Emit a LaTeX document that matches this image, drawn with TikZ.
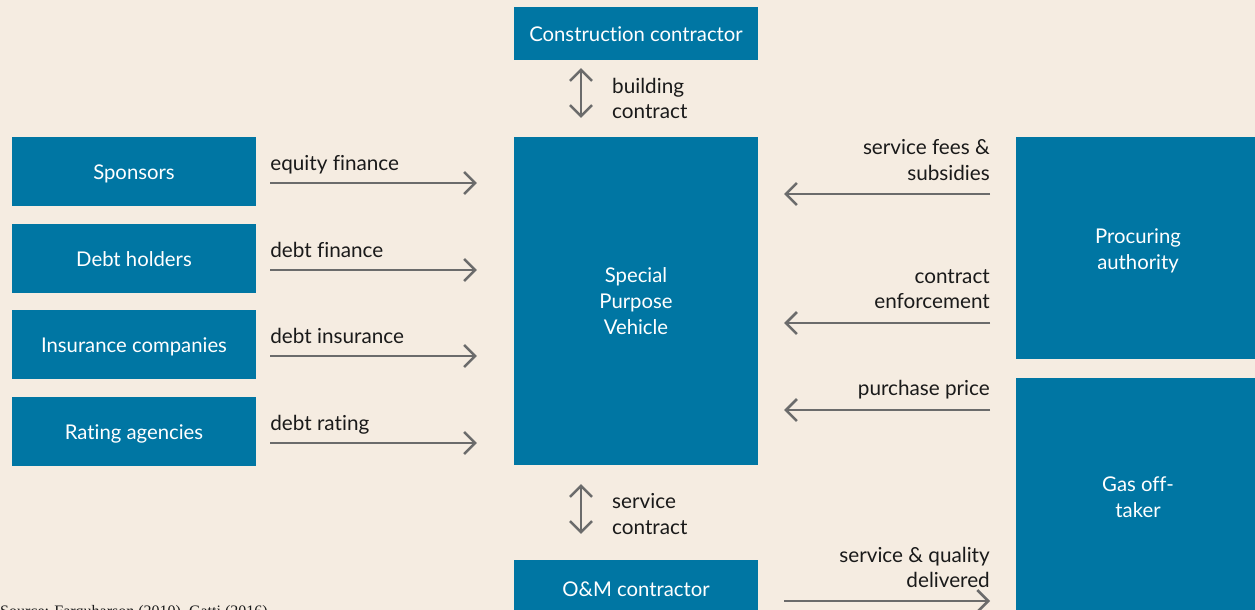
\documentclass[tikz,border=0pt]{standalone}
\usepackage{fontspec}
\setmainfont{Lato}[Ligatures=NoCommon]
\newfontfamily\srcfont{Liberation Serif}
\usetikzlibrary{arrows.meta,calc}
\definecolor{bg}{HTML}{F5ECE1}
\definecolor{boxblue}{HTML}{0076A3}
\definecolor{arrowgray}{HTML}{6B6B6B}
\definecolor{txt}{HTML}{1A1A1A}
\begin{document}
\begin{tikzpicture}[x=1pt,y=-1pt,
  box/.style={fill=boxblue, text=white, minimum width=244pt, inner sep=0pt,
    align=center, font=\fontsize{20.3}{26}\selectfont},
  box1/.style={box, text height=20pt, text depth=4pt},
  boxtxt/.style={text=white, inner sep=0pt, align=center, font=\fontsize{20.3}{26}\selectfont},
  lbl/.style={text=txt, inner sep=0pt, font=\fontsize{20.7}{26}\selectfont},
  arr/.style={draw=arrowgray, line width=2.5pt, -{Straight Barb[length=11pt,width=22pt]}},
  darr/.style={draw=arrowgray, line width=2.5pt, {Straight Barb[length=11pt,width=22pt]}-{Straight Barb[length=11pt,width=22pt]}}
]
\clip (0,0) rectangle (1255,610);
\fill[bg] (0,0) rectangle (1255,610);

% boxes
\node[box1, minimum height=53pt] (cc) at (636,33.5) {Construction contractor};
\node[box, minimum height=328pt] (spv) at (636,301) {Special\\Purpose\\Vehicle};
\node[box1, minimum height=56pt] (om) at (636,588) {O\&M contractor};
\node[box1, minimum height=69pt] (sp) at (134,171.5) {Sponsors};
\node[box1, minimum height=69pt] (dh) at (134,258.5) {Debt holders};
\node[box1, minimum height=69pt] (ic) at (134,344.5) {Insurance companies};
\node[box1, minimum height=69pt] (ra) at (134,431.5) {Rating agencies};
\node[box, minimum height=222pt] (pa) at (1138,248) {};
\node[boxtxt] (pat) at ($(pa.center)+(0,3)$) {Procuring\\authority};
\node[box, minimum height=238pt] (go) at (1138,497) {Gas off-\\taker};

% left arrows
\foreach \n/\t in {sp/equity finance, dh/debt finance, ic/debt insurance, ra/debt rating}{
  \coordinate (\n s) at ($(\n.east)+(14,11.5)$);
  \coordinate (\n e) at ($(spv.west |- \n s)+(-37,0)$);
  \draw[arr] (\n s) -- (\n e);
  \node[lbl, anchor=base west] (\n l) at ($(\n s)+(0,-13)$) {\t};
}

% right arrows
\coordinate (r1s) at (990,194);
\coordinate (r1e) at ($(spv.east |- r1s)+(26,0)$);
\draw[arr] (r1s) -- (r1e);
\node[lbl, anchor=base east] (r1a) at (990,154) {service fees \&};
\node[lbl, anchor=base east] (r1b) at (990,180) {subsidies};

\coordinate (r2s) at (990,323);
\coordinate (r2e) at ($(spv.east |- r2s)+(26,0)$);
\draw[arr] (r2s) -- (r2e);
\node[lbl, anchor=base east] (r2a) at (990,283) {contract};
\node[lbl, anchor=base east] (r2b) at (990,308) {enforcement};

\coordinate (r3s) at (990,410);
\coordinate (r3e) at ($(spv.east |- r3s)+(26,0)$);
\draw[arr] (r3s) -- (r3e);
\node[lbl, anchor=base east] (r3a) at (990,395) {purchase price};

\coordinate (r4s) at ($(om.east)+(26,13)$);
\coordinate (r4e) at (990,601);
\draw[arr] (r4s) -- (r4e);
\node[lbl, anchor=base east] (r4a) at (990,562) {service \& quality};
\node[lbl, anchor=base east] (r4b) at (990,587) {delivered};

% vertical arrows
\coordinate (v1a) at ($(cc.south)+(-55,8)$);
\coordinate (v1b) at ($(spv.north)+(-55,-19)$);
\draw[darr] (v1a) -- (v1b);
\node[lbl, anchor=base west] (v1l) at (612,93) {building};
\node[lbl, anchor=base west] (v1m) at (612,118) {contract};

\coordinate (v2a) at ($(spv.south)+(-55,19)$);
\coordinate (v2b) at ($(om.north)+(-55,-26)$);
\draw[darr] (v2a) -- (v2b);
\node[lbl, anchor=base west] (v2l) at (612,508) {service};
\node[lbl, anchor=base west] (v2m) at (612,534) {contract};

% source
\node[anchor=base west, inner sep=0pt, text=txt, font=\srcfont\fontsize{16}{18}\selectfont] (src) at (0,616) {Source: Farquharson (2010), Gatti (2016)};
\end{tikzpicture}
\end{document}
